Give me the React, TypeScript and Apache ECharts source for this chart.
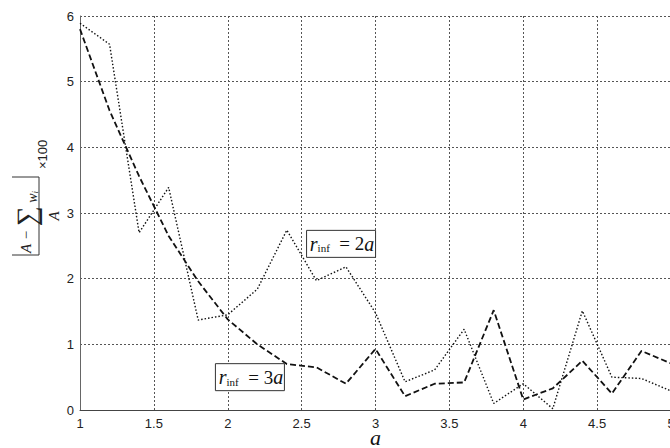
import React, { useEffect, useRef } from "react";
import * as echarts from "echarts";

const aValues = [1, 1.2, 1.4, 1.6, 1.8, 2, 2.2, 2.4, 2.6, 2.8, 3, 3.2, 3.4, 3.6, 3.8, 4, 4.2, 4.4, 4.6, 4.8, 5];
const err2a = [5.89, 5.57, 2.7, 3.39, 1.37, 1.45, 1.84, 2.74, 1.97, 2.18, 1.48, 0.43, 0.61, 1.23, 0.1, 0.4, 0.02, 1.51, 0.5, 0.48, 0.29];
const err3a = [5.8, 4.56, 3.56, 2.65, 1.96, 1.38, 1.0, 0.7, 0.65, 0.4, 0.93, 0.21, 0.4, 0.42, 1.52, 0.16, 0.33, 0.75, 0.25, 0.9, 0.71];
const label2aAt = [2.767, 2.53];
const label3aAt = [2.15, 0.5];

const serif = "'Liberation Serif', 'Times New Roman', serif";
const sans = "'Liberation Sans', Arial, sans-serif";

function boxLabel(cx: number, cy: number, num: string) {
  const tok = (font: string, o: any = {}) => ({ fill: "#111", color: "#111", font, lineHeight: 20, ...o });
  return {
    type: "group",
    x: cx,
    y: cy,
    children: [
      {
        type: "rect",
        shape: { x: -34.5, y: -13.5, width: 69, height: 27 },
        style: { fill: "#fff", stroke: "#333", lineWidth: 1 },
      },
      {
        type: "text",
        x: 1,
        y: 0,
        style: {
          text: `{r|r}{s|inf}{e|  = ${num}}{a|a}`,
          align: "center",
          verticalAlign: "middle",
          font: `19px ${serif}`,
          rich: {
            r: tok(`italic 20px ${serif}`),
            s: tok(`11px ${serif}`, { verticalAlign: "bottom", lineHeight: 15 }),
            e: tok(`19px ${serif}`),
            a: tok(`italic 20px ${serif}`),
          },
        },
      },
    ],
  };
}

function yLabel() {
  const t = (font: string, o: any = {}) => ({ fill: "#222", color: "#222", font, ...o });
  return {
    type: "group",
    x: 39,
    y: 216,
    rotation: Math.PI / 2,
    children: [
      { type: "line", shape: { x1: -39, y1: 0, x2: 39, y2: 0 }, style: { stroke: "#333", lineWidth: 1 } },
      { type: "line", shape: { x1: -39, y1: -27, x2: -39, y2: 0 }, style: { stroke: "#333", lineWidth: 1 } },
      { type: "line", shape: { x1: 39, y1: -27, x2: 39, y2: 0 }, style: { stroke: "#333", lineWidth: 1 } },
      {
        type: "text",
        x: -37,
        y: -13,
        style: {
          text: "{A|A − }{S|∑}{w| w}{i|i}",
          align: "left",
          verticalAlign: "middle",
          font: `italic 15px ${serif}`,
          rich: {
            A: t(`italic 15px ${serif}`, { lineHeight: 26 }),
            S: t(`28px ${serif}`, { lineHeight: 26 }),
            w: t(`italic 14px ${serif}`, { lineHeight: 26, verticalAlign: "bottom" }),
            i: t(`italic 9px ${serif}`, { lineHeight: 22, verticalAlign: "bottom" }),
          },
        },
      },
      {
        type: "text",
        x: 0,
        y: 15,
        style: t(`italic 15px ${serif}`, { text: "A", align: "center", verticalAlign: "middle" }),
      },
      {
        type: "text",
        x: 47,
        y: 3,
        style: t(`13px ${sans}`, { text: "×100", align: "left", verticalAlign: "middle" }),
      },
    ],
  };
}

export default function App() {
  const ref = useRef<HTMLDivElement>(null);
  useEffect(() => {
    if (!ref.current) return;
    const chart = echarts.init(ref.current, null, { renderer: "svg" });
    const split = { show: true, lineStyle: { color: "#555", width: 1, type: [2, 2] } };
    chart.setOption({
      animation: false,
      backgroundColor: "#fff",
      grid: { left: 80, top: 16, right: -1, bottom: 38, outerBoundsMode: "none", containLabel: false },
      xAxis: {
        type: "value",
        min: 1,
        max: 5,
        interval: 0.5,
        axisLine: { show: true, onZero: false, lineStyle: { color: "#444", width: 1 } },
        axisTick: { show: false },
        axisLabel: { color: "#222", fontSize: 13, fontFamily: "Liberation Sans", margin: 7, formatter: (v: number) => String(v) },
        splitLine: split,
        name: "a",
        nameLocation: "middle",
        nameGap: 16,
        nameMoveOverlap: false,
        nameTextStyle: { fontFamily: "Liberation Serif", fontStyle: "italic", fontSize: 22, color: "#111" },
      },
      yAxis: {
        type: "value",
        min: 0,
        max: 6,
        interval: 1,
        axisLine: { show: true, lineStyle: { color: "#666", width: 1 } },
        axisTick: { show: false },
        axisLabel: { color: "#222", fontSize: 13, fontFamily: "Liberation Sans", margin: 6 },
        splitLine: split,
      },
      series: [
        {
          type: "line",
          data: aValues.map((a, i) => [a, err2a[i]]),
          symbol: "none",
          lineStyle: { color: "#111", width: 1.4, type: [1.5, 2] },
        },
        {
          type: "line",
          data: aValues.map((a, i) => [a, err3a[i]]),
          symbol: "none",
          lineStyle: { color: "#111", width: 1.8, type: [6, 3] },
        },
      ],
    });
    const p2 = chart.convertToPixel({ gridIndex: 0 }, label2aAt) as number[];
    const p3 = chart.convertToPixel({ gridIndex: 0 }, label3aAt) as number[];
    chart.setOption({
      graphic: [boxLabel(p2[0], p2[1], "2"), boxLabel(p3[0], p3[1], "3"), yLabel()],
    });
    return () => chart.dispose();
  }, []);
  return <div ref={ref} style={{ position: "fixed", left: 0, top: 0, width: 670, height: 448 }} />;
}
